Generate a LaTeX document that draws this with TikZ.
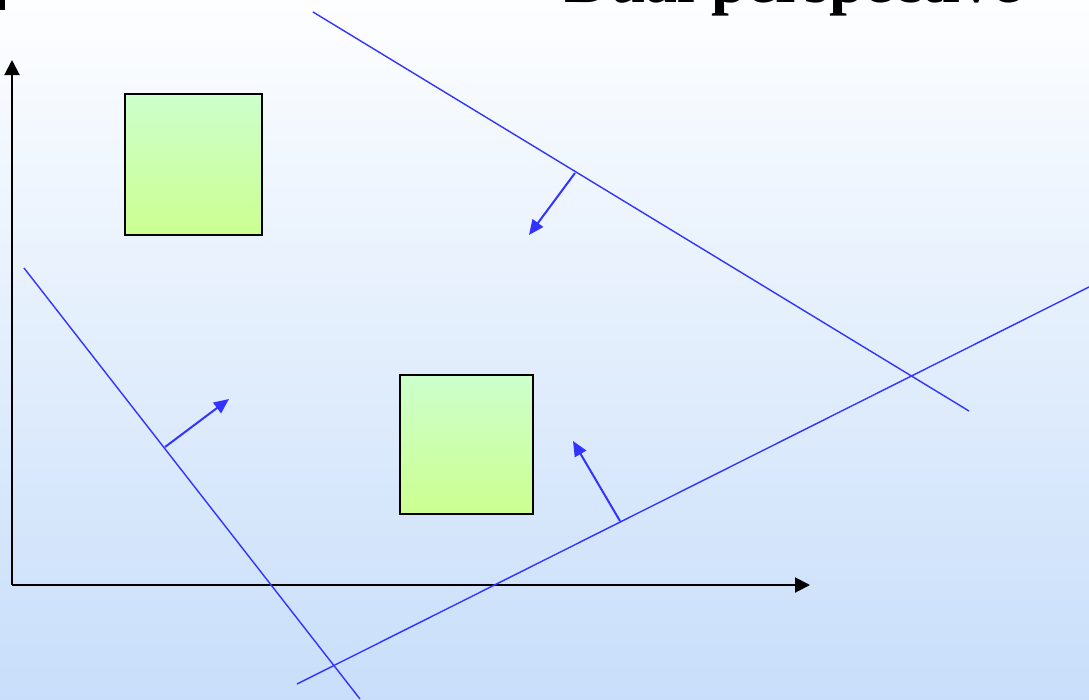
\documentclass[tikz,border=0pt]{standalone}
\usepackage{fontspec}
\setmainfont{Liberation Serif}
\usepackage{tikz}
\usetikzlibrary{arrows.meta,positioning,calc}

\definecolor{bgtop}{RGB}{253,254,255}
\definecolor{bgbot}{RGB}{200,222,250}
\definecolor{boxtop}{RGB}{204,255,204}
\definecolor{boxbot}{RGB}{204,255,144}
\definecolor{cutblue}{RGB}{51,51,255}

\begin{document}
\begin{tikzpicture}[x=1pt, y=-1pt,
    axis/.style={line width=2pt, -{Triangle[length=15pt,width=15pt]}},
    cut/.style={cutblue, line width=1.4pt},
    normal/.style={cutblue, line width=2pt, -{Triangle[length=15pt,width=13pt]}},
    region/.style={draw=black, line width=1.5pt, top color=boxtop, bottom color=boxbot,
      minimum width=137pt, minimum height=141pt, inner sep=0pt}]

  % Background
  \useasboundingbox (0,0) rectangle (1089,699);
  \shade[top color=bgtop, bottom color=bgbot] (0,0) rectangle (1089,699);
  \fill (0,0) rectangle (5,10);

  % Title
  \node[anchor=base west, inner sep=0pt, font=\fontsize{64}{64}\selectfont\bfseries] (title) at (564,2) {Dual perspective};

  % Define nodes
  \coordinate (O) at (12,585);
  \coordinate (ytop) at (12,60);
  \coordinate (xend) at (810,585);
  \node[region] (sq1) at (193.5,164.5) {};
  \node[region, minimum width=133pt, minimum height=139pt] (sq2) at (466.5,444.5) {};

  % Draw axes
  \draw[axis] (O) -- (ytop);
  \draw[axis] (O) -- (xend);

  % Draw cuts
  \coordinate (a1) at (313,12);
  \coordinate (a2) at (969,411);
  \coordinate (b1) at (1089,287);
  \coordinate (b2) at (297,684);
  \coordinate (c1) at (24,268);
  \coordinate (c2) at (360,699);
  \draw[cut] (a1) -- (a2);
  \draw[cut] (b1) -- (b2);
  \draw[cut] (c1) -- (c2);

  % Draw arrows
  \coordinate (na) at (575,173);
  \coordinate (na2) at (529,235);
  \coordinate (nb) at (620,521);
  \coordinate (nb2) at (573,441);
  \coordinate (nc) at (165,447);
  \coordinate (nc2) at (229,399);
  \draw[normal] (na) -- (na2);
  \draw[normal] (nb) -- (nb2);
  \draw[normal] (nc) -- (nc2);
\end{tikzpicture}
\end{document}
